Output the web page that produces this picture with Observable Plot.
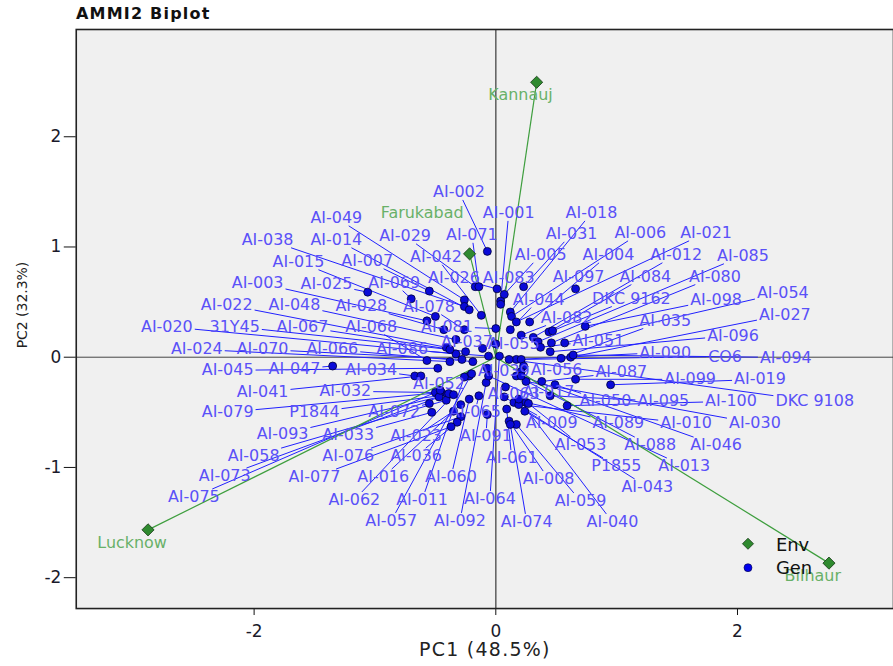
<!DOCTYPE html>
<html><head><meta charset="utf-8">
<script src="https://cdn.jsdelivr.net/npm/d3@7"></script>
<script src="https://cdn.jsdelivr.net/npm/@observablehq/plot@0.6"></script>
<style>
html,body{margin:0;padding:0;background:#fff;overflow:hidden;}
#title{height:28px;font-family:"DejaVu Sans";font-weight:bold;font-size:16px;line-height:28px;padding-left:76px;color:#111;white-space:nowrap;letter-spacing:1.2px;}
#chart svg{display:block;}
</style></head><body>
<div id="title">AMMI2 Biplot</div>
<div id="chart"></div>
<script>
// ---- genotype scores (PC1, PC2) and label anchor positions ----
const genNames = ["AI-002","AI-049","AI-029","AI-071","AI-038","AI-014","AI-042","AI-015","AI-007","AI-026","AI-003","AI-025","AI-069","AI-022","AI-048","AI-028","AI-078","AI-020","31Y45","AI-067","AI-068","AI-081","AI-037","AI-024","AI-070","AI-066","AI-086",
"AI-001","AI-018","AI-031","AI-006","AI-021","AI-005","AI-004","AI-012","AI-085","AI-083","AI-097","AI-084","AI-080","AI-054","AI-044","DKC 9162","AI-098","AI-027","AI-082","AI-035","AI-096","AI-051","AI-055","AI-090","CO6","AI-094",
"AI-045","AI-047","AI-034","AI-041","AI-032","AI-052","AI-079","P1844","AI-072","AI-065","AI-093","AI-033","AI-023","AI-091","AI-058","AI-076","AI-036","AI-073","AI-077","AI-016","AI-060","AI-075","AI-062","AI-011","AI-057","AI-092",
"AI-056","AI-087","AI-099","AI-019","AI-039","AI-063","AI-017","AI-050","AI-095","AI-100","DKC 9108","AI-009","AI-089","AI-010","AI-030","AI-053","AI-088","AI-046","P1855","AI-013","AI-061","AI-008","AI-043","AI-059","AI-064","AI-074","AI-040"];

const genPC1 = [-0.07,-0.26,-0.17,-0.14,-0.26,-0.22,-0.12,-0.50,-0.55,0.01,-0.57,-1.06,-0.70,-0.41,-0.33,-0.43,-0.26,-0.33,-0.38,-0.25,-0.57,0.00,-0.11,-0.38,-0.28,-0.19,-0.06,
0.04,0.12,0.23,0.13,0.17,0.07,0.28,0.31,0.35,0.04,0.66,0.44,0.46,0.57,0.12,0.47,0.74,0.62,0.21,0.54,0.45,0.37,0.00,0.17,0.21,0.64,
-0.48,-1.35,-0.67,-0.62,-0.50,-0.22,-0.45,-0.40,-0.55,-0.14,-0.47,-0.53,-0.35,-0.07,-0.41,-0.29,-0.32,-0.39,-0.37,-0.29,-0.22,-0.46,-0.35,-0.26,-0.20,-0.08,
0.23,0.38,0.66,0.95,-0.07,0.08,0.21,0.49,0.45,0.59,0.11,0.15,0.25,0.19,0.25,0.27,0.17,0.21,0.24,-0.06,0.09,0.11,0.07,0.17,0.03,0.12,0.19];

const genPC2 = [0.96,0.52,0.64,0.64,0.46,0.43,0.38,0.37,0.60,0.62,0.33,0.59,0.53,0.09,0.16,0.25,0.25,0.03,0.07,0.05,-0.03,0.26,0.08,-0.04,-0.02,-0.04,0.01,
0.51,0.41,0.64,0.37,0.32,0.57,0.32,0.18,0.14,0.48,0.62,0.23,0.13,0.13,0.25,0.24,0.28,0.00,0.20,-0.01,0.05,0.09,0.12,-0.02,-0.02,0.02,
-0.10,-0.08,-0.17,-0.17,-0.32,-0.17,-0.32,-0.34,-0.42,-0.35,-0.36,-0.50,-0.49,-0.52,-0.39,-0.54,-0.59,-0.33,-0.63,-0.43,-0.38,-0.30,-0.34,-0.18,-0.15,-0.23,
-0.08,-0.22,-0.20,-0.25,-0.10,-0.27,-0.13,-0.25,-0.35,-0.44,-0.02,-0.41,-0.41,-0.43,-0.22,-0.42,-0.17,-0.17,-0.49,-0.17,-0.47,-0.58,-0.36,-0.61,0.01,-0.61,-0.38];

const genLabelPC1 = [-0.305,-1.320,-0.751,-0.198,-1.889,-1.320,-0.495,-1.633,-1.064,-0.346,-1.971,-1.402,-0.841,-2.227,-1.666,-1.113,-0.553,-2.722,-2.161,-1.600,-1.031,-0.404,-0.239,-2.474,-1.930,-1.353,-0.775,
0.107,0.792,0.627,1.196,1.740,0.371,0.932,1.493,2.045,0.107,0.685,1.237,1.814,2.375,0.355,1.122,1.823,2.392,0.586,1.402,1.963,0.849,0.148,1.402,1.897,2.400,
-2.219,-1.666,-1.031,-1.930,-1.245,-0.470,-2.219,-1.501,-0.841,-0.173,-1.765,-1.221,-0.660,-0.082,-2.004,-1.221,-0.660,-2.243,-1.501,-0.932,-0.371,-2.499,-1.171,-0.610,-0.866,-0.297,
0.503,1.039,1.608,2.186,0.066,0.148,0.437,0.907,1.386,1.946,2.639,0.462,1.014,1.575,2.144,0.701,1.278,1.823,0.998,1.559,0.132,0.437,1.254,0.701,-0.049,0.256,0.965];

const genLabelPC2 = [1.499,1.264,1.101,1.110,1.065,1.065,0.911,0.866,0.875,0.722,0.676,0.667,0.676,0.477,0.477,0.468,0.459,0.278,0.278,0.278,0.278,0.278,0.143,0.071,0.071,0.071,0.071,
1.309,1.309,1.119,1.128,1.128,0.929,0.929,0.929,0.920,0.722,0.731,0.731,0.731,0.586,0.523,0.532,0.523,0.387,0.360,0.333,0.197,0.152,0.125,0.043,0.007,-0.002,
-0.119,-0.110,-0.119,-0.318,-0.309,-0.246,-0.499,-0.499,-0.499,-0.499,-0.698,-0.707,-0.716,-0.716,-0.897,-0.897,-0.897,-1.078,-1.087,-1.087,-1.087,-1.268,-1.295,-1.295,-1.485,-1.485,
-0.119,-0.137,-0.201,-0.201,-0.128,-0.336,-0.318,-0.400,-0.400,-0.400,-0.400,-0.599,-0.599,-0.599,-0.599,-0.797,-0.797,-0.797,-0.987,-0.987,-0.915,-1.105,-1.177,-1.304,-1.286,-1.494,-1.494];

// ---- environment scores and label anchors ----
const envNames = ["Kannauj","Farukabad","Lucknow","Bilhaur"];
const envPC1 = [0.338,-0.217,-2.878,2.757];
const envPC2 = [2.494,0.938,-1.566,-1.868];
const envLabelPC1 = [0.204,-0.610,-3.010,2.623];
const envLabelPC2 = [2.376,1.309,-1.688,-1.985];

// ---- axes and legend ----
const xTicks = [-2, 0, 2];
const yTicks = [-2, -1, 0, 1, 2];
const xDomain = [-3.472, 3.291];
const yDomain = [-2.280, 2.973];
const xTitle = "PC1 (48.5%)";
const yTitle = "PC2 (32.3%)";
const legendItems = ["Env", "Gen"];

const W = 896, H = 638, mL = 76, mR = 0, mT = 1, mB = 56;
const sx = d3.scaleLinear(xDomain, [mL, W - mR]);
const sy = d3.scaleLinear(yDomain, [H - mB, mT]);
const ctx = document.createElement("canvas").getContext("2d");
ctx.font = "16px 'DejaVu Sans'";

const gens = genNames.map((name, i) => {
  const px = sx(genPC1[i]), py = sy(genPC2[i]);
  const lx = sx(genLabelPC1[i]), ly = sy(genLabelPC2[i]);
  const hw = ctx.measureText(name).width / 2 + 2, hh = 8;
  const dx = lx - px, dy = ly - py;
  const t = Math.max(dx ? 1 - hw / Math.abs(dx) : -Infinity, dy ? 1 - hh / Math.abs(dy) : -Infinity);
  const show = t > 0 && Math.hypot(dx * t, dy * t) > 3;
  return {
    name, x: genPC1[i], y: genPC2[i], lx: genLabelPC1[i], ly: genLabelPC2[i],
    ex: sx.invert(px + t * dx), ey: sy.invert(py + t * dy), show
  };
});
const segs = gens.filter(d => d.show);
const envs = envNames.map((name, i) => ({name, x: envPC1[i], y: envPC2[i], lx: envLabelPC1[i], ly: envLabelPC2[i]}));

const chart = Plot.plot({
  width: W, height: H,
  marginLeft: mL, marginRight: mR, marginTop: mT, marginBottom: mB,
  style: {fontFamily: "DejaVu Sans", fontSize: "17px", color: "#1a1a2a", background: "transparent", overflow: "visible"},
  x: {domain: xDomain},
  y: {domain: yDomain},
  marks: [
    Plot.frame({fill: "#f0f0f0"}),
    Plot.ruleX([0], {stroke: "#666", strokeWidth: 1.6}),
    Plot.ruleY([0], {stroke: "#444", strokeWidth: 1}),
    Plot.link(segs, {x1: "x", y1: "y", x2: "ex", y2: "ey", stroke: "#1f1fff", strokeWidth: 1}),
    Plot.link(envs, {x1: () => 0, y1: () => 0, x2: "x", y2: "y", stroke: "#3e9e3e", strokeWidth: 1.2}),
    Plot.dot(gens, {x: "x", y: "y", r: 4, fill: "#0a0ad8", stroke: "#00003a", strokeWidth: 0.8}),
    Plot.dot(envs, {x: "x", y: "y", symbol: "diamond2", r: 5.5, fill: "#2f8a2f", stroke: "#173817", strokeWidth: 0.8}),
    Plot.text(gens, {x: "lx", y: "ly", text: "name", fill: "#5a50f8", fontSize: 16}),
    Plot.text(envs, {x: "lx", y: "ly", text: "name", fill: "#68b068", fontSize: 16}),
    // legend
    Plot.dot([legendItems[0]], {frameAnchor: "bottom-right", dx: -146, dy: -65, symbol: "diamond2", r: 5, fill: "#2f8a2f", stroke: "#173817", strokeWidth: 0.8}),
    Plot.dot([legendItems[1]], {frameAnchor: "bottom-right", dx: -146, dy: -41, r: 4, fill: "#0000ee", stroke: "#00003a", strokeWidth: 0.6}),
    Plot.text([legendItems[0]], {frameAnchor: "bottom-right", dx: -118, dy: -64, text: d => d, textAnchor: "start", lineAnchor: "middle", fontSize: 18, fill: "#111"}),
    Plot.text([legendItems[1]], {frameAnchor: "bottom-right", dx: -118, dy: -40, text: d => d, textAnchor: "start", lineAnchor: "middle", fontSize: 18, fill: "#111"}),
    // axes
    Plot.axisX({ticks: xTicks, tickSize: 7, tickPadding: 9, tickFormat: d => String(d), label: null, stroke: "#111"}),
    Plot.axisY({ticks: yTicks, tickSize: 12, tickPadding: 3, tickFormat: d => String(d), label: null, stroke: "#111"}),
    Plot.text([xTitle], {frameAnchor: "bottom", dy: 42, text: d => d, textAnchor: "middle", lineAnchor: "middle", fontSize: 19, fill: "#222"}),
    Plot.text([yTitle], {frameAnchor: "left", dx: -54, dy: -14, rotate: -90, text: d => d, textAnchor: "middle", lineAnchor: "middle", fontSize: 14, fill: "#222"}),
    Plot.frame({stroke: "#222", strokeWidth: 1.6})
  ]
});
chart.querySelectorAll("text").forEach(t => {
  if (t.textContent === xTitle) t.style.letterSpacing = "1.3px";
});
document.getElementById("chart").appendChild(chart);
</script></body></html>
